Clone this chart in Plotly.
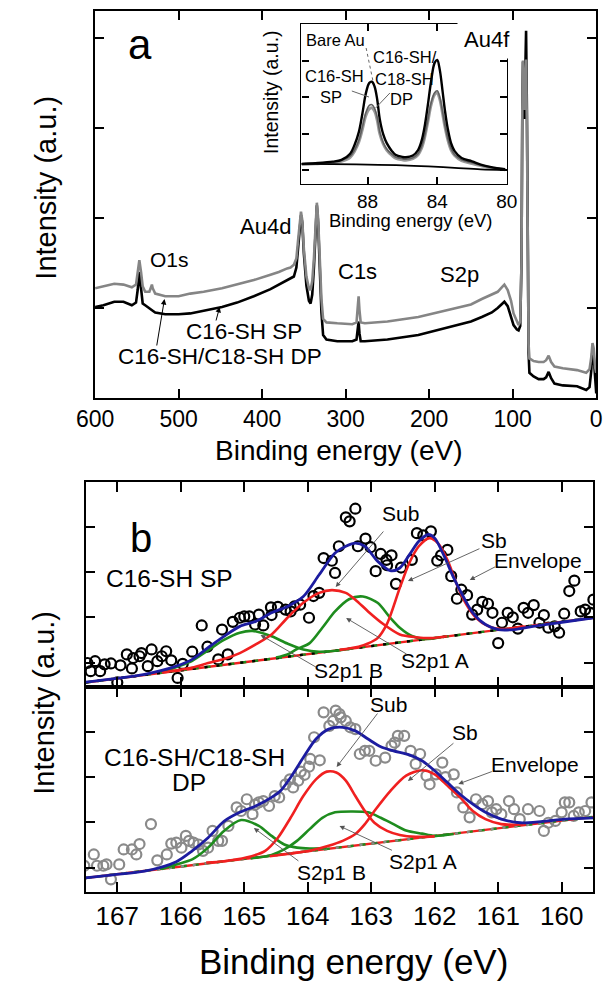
import plotly.graph_objects as go

W, H = 612, 982
FONT = "Liberation Sans, Arial, sans-serif"

# ---------------- Panel a : survey spectra ----------------
survey_be = [600, 590, 577, 566, 556, 551, 549, 547, 545, 543, 540, 535, 533, 532, 531, 528, 516, 500,
             486, 470, 448, 430, 410, 390, 380, 370, 366, 362, 359, 357, 355, 353.5, 352, 350, 347, 344,
             342, 340, 338, 336, 334.5, 333, 331, 329, 327, 323, 310, 292, 287, 285.5, 284.5, 283.5, 282,
             277, 250, 213, 175, 150, 137, 125, 118, 112, 110, 106, 102, 99, 95, 93, 91, 89.5, 88.5, 87.7,
             86.8, 86, 85, 84, 83, 82, 81, 80, 75, 69, 63, 60, 57, 54, 50, 40, 23, 12, 8, 6, 4.5, 3, 1.5, 0]
survey_dp = [1.22, 1.24, 1.27, 1.26, 1.23, 1.26, 1.38, 1.53, 1.40, 1.24, 1.18, 1.18, 1.23, 1.26, 1.22, 1.16,
             1.13, 1.13, 1.16, 1.18, 1.22, 1.26, 1.31, 1.37, 1.40, 1.44, 1.45, 1.48, 1.55, 1.75, 1.98, 2.07,
             1.98, 1.65, 1.35, 1.22, 1.20, 1.30, 1.55, 1.95, 2.17, 2.00, 1.55, 1.10, 0.88, 0.84, 0.83, 0.82,
             0.84, 1.00, 1.13, 0.98, 0.84, 0.83, 0.85, 0.90, 0.98, 1.04, 1.10, 1.15, 1.18, 1.24, 1.26, 1.20,
             1.08, 0.94, 0.84, 0.81, 0.85, 1.5, 3.2, 3.75, 3.4, 3.2, 3.5, 3.76, 3.0, 1.5, 0.6, 0.44, 0.41,
             0.40, 0.40, 0.42, 0.47, 0.40, 0.35, 0.33, 0.31, 0.28, 0.32, 0.45, 0.61, 0.55, 0.35, 0.28]
survey_sp = [1.01, 1.03, 1.07, 1.07, 1.03, 1.06, 1.20, 1.40, 1.22, 1.05, 1.03, 1.00, 0.99, 0.98, 0.97, 0.95,
             0.93, 0.93, 0.94, 0.97, 1.01, 1.06, 1.13, 1.21, 1.26, 1.31, 1.33, 1.35, 1.45, 1.70, 1.95, 2.03,
             1.95, 1.60, 1.25, 1.08, 1.05, 1.15, 1.45, 1.90, 2.14, 1.95, 1.45, 0.95, 0.70, 0.65, 0.63, 0.63,
             0.65, 0.76, 0.85, 0.72, 0.63, 0.63, 0.65, 0.70, 0.79, 0.85, 0.90, 0.95, 1.00, 1.05, 1.07, 1.02,
             0.90, 0.81, 0.76, 0.75, 0.80, 1.5, 3.2, 3.74, 3.3, 3.1, 3.6, 4.08, 3.2, 1.4, 0.5, 0.28, 0.24,
             0.21, 0.21, 0.23, 0.29, 0.22, 0.16, 0.14, 0.13, 0.09, 0.12, 0.30, 0.55, 0.45, 0.20, 0.05]
survey_ticks = [0, 100, 200, 300, 400, 500, 600]

# ---------------- Inset : Au4f ----------------
au4f_be = [91.8, 91.0, 90.0, 89.5, 89.0, 88.75, 88.5, 88.3, 88.1, 87.9, 87.75, 87.6, 87.45, 87.3, 87.1,
           86.9, 86.6, 86.4, 86.0, 85.8, 85.4, 85.1, 84.9, 84.74, 84.55, 84.35, 84.15, 84.0, 83.85, 83.7,
           83.56, 83.4, 83.2, 83.0, 82.6, 82.0, 81.5, 80.9, 80.1]
au4f_bare = [0.17, 0.19, 0.23, 0.28, 0.45, 0.69, 1.05, 1.55, 2.11, 2.40, 2.43, 2.30, 1.95, 1.40, 0.98,
             0.74, 0.52, 0.42, 0.36, 0.35, 0.40, 0.55, 0.80, 1.15, 1.75, 2.45, 2.95, 3.03, 2.75, 2.20,
             1.65, 1.15, 0.73, 0.52, 0.33, 0.24, 0.15, 0.08, 0.02]
au4f_sp = [0.17, 0.19, 0.22, 0.26, 0.38, 0.55, 0.82, 1.18, 1.58, 1.78, 1.80, 1.70, 1.45, 1.05, 0.75,
           0.58, 0.43, 0.36, 0.31, 0.30, 0.34, 0.45, 0.64, 0.90, 1.35, 1.85, 2.13, 2.18, 2.00, 1.62,
           1.24, 0.88, 0.58, 0.42, 0.28, 0.20, 0.13, 0.07, 0.02]
au4f_dp = [0.15, 0.17, 0.20, 0.24, 0.35, 0.52, 0.78, 1.12, 1.50, 1.68, 1.71, 1.62, 1.38, 1.00, 0.72,
           0.55, 0.40, 0.33, 0.28, 0.27, 0.31, 0.42, 0.60, 0.86, 1.30, 1.80, 2.08, 2.12, 1.95, 1.58,
           1.20, 0.85, 0.55, 0.40, 0.26, 0.18, 0.12, 0.06, 0.01]
au4f_bg_be = [91.8, 90.0, 88.0, 86.0, 84.5, 83.0, 81.5, 80.1]
au4f_bg = [0.17, 0.16, 0.15, 0.13, 0.10, 0.06, 0.02, 0.0]
inset_ticks = [88, 84, 80]

# ---------------- Panel b : S2p, C16-SH SP ----------------
sp_pts_be = [167.47, 167.35, 167.42, 167.27, 167.20, 167.10, 167.00, 166.95, 166.85, 166.77, 166.75,
             166.65, 166.62, 166.52, 166.46, 166.37, 166.30, 166.23, 166.15, 166.05, 165.97, 165.82,
             165.67, 165.58, 165.41, 165.35, 165.26, 165.18, 165.07, 165.00, 164.92, 164.83, 164.77,
             164.70, 164.58, 164.57, 164.47, 164.35, 164.27, 164.21, 164.12, 163.98, 163.91, 163.82,
             163.75, 163.62, 163.57, 163.51, 163.40, 163.34, 163.25, 163.21, 163.09, 163.01, 162.93,
             162.85, 162.76, 162.68, 162.75, 162.61, 162.53, 162.36, 162.28, 162.18, 162.06, 161.96,
             161.90, 161.80, 161.74, 161.65, 161.58, 161.49, 161.41, 161.33, 161.25, 161.16, 161.09,
             161.00, 160.94, 160.85, 160.77, 160.69, 160.60, 160.53, 160.44, 160.35, 160.28, 160.21,
             160.11, 160.04, 159.96, 159.88, 159.80, 159.70, 159.63, 159.55, 159.50]
sp_pts_int = [0.99, 1.03, 0.81, 0.81, 0.96, 0.98, 0.56, 0.94, 1.18, 0.87, 1.10, 1.14, 1.21, 0.92, 1.29,
              1.03, 1.14, 1.25, 1.05, 0.66, 0.97, 1.24, 1.82, 1.35, 1.07, 1.73, 1.18, 1.90, 1.99, 2.02,
              2.02, 1.84, 2.06, 1.82, 2.22, 2.05, 2.23, 2.17, 2.13, 2.24, 2.28, 1.99, 2.47, 2.54, 3.31,
              3.25, 2.98, 3.57, 4.21, 4.12, 4.40, 3.57, 3.74, 3.55, 3.02, 3.40, 3.27, 3.37, 3.15, 2.74,
              3.10, 3.27, 3.86, 3.81, 3.90, 3.25, 3.37, 3.49, 2.91, 2.41, 2.61, 2.49, 2.06, 2.17, 2.34,
              2.30, 2.10, 1.43, 1.88, 2.10, 2.00, 1.75, 2.21, 2.10, 2.27, 1.88, 2.05, 1.77, 1.80, 1.66,
              2.08, 2.58, 2.81, 2.13, 2.17, 2.10, 2.39]

sp_env_be = [167.5, 167.07, 166.57, 166.07, 165.82, 165.57, 165.32, 165.07, 164.82, 164.57, 164.32,
             164.07, 163.82, 163.57, 163.40, 163.25, 163.10, 162.90, 162.70, 162.55, 162.40, 162.25,
             162.10, 162.00, 161.85, 161.70, 161.55, 161.40, 161.20, 161.00, 160.75, 160.45, 160.05, 159.5]
sp_env = [0.57, 0.64, 0.74, 0.92, 1.07, 1.33, 1.58, 1.80, 1.91, 2.10, 2.24, 2.46, 2.94, 3.42, 3.57, 3.64,
          3.57, 3.24, 3.03, 3.09, 3.38, 3.68, 3.83, 3.75, 3.35, 2.87, 2.46, 2.10, 1.84, 1.73, 1.73, 1.80,
          1.88, 1.99]
sp_sub_be = [166.30, 165.82, 165.57, 165.32, 165.07, 164.82, 164.57, 164.32, 164.07, 163.82, 163.62,
             163.40, 163.25, 163.05, 162.80, 162.55, 162.30, 162.05, 161.80]
sp_sub = [0.78, 0.89, 0.99, 1.08, 1.21, 1.40, 1.62, 1.99, 2.32, 2.54, 2.60, 2.54, 2.39, 2.13, 1.84, 1.62,
          1.56, 1.54, 1.58]
sp_sb_be = [163.50, 163.20, 163.05, 162.90, 162.75, 162.55, 162.40, 162.25, 162.08, 161.95, 161.80,
            161.65, 161.50, 161.35, 161.15, 160.95, 160.60]
sp_sb = [1.28, 1.35, 1.42, 1.54, 1.86, 2.65, 3.20, 3.57, 3.75, 3.64, 3.27, 2.72, 2.28, 1.99, 1.80, 1.74, 1.80]
sp_a_be = [164.50, 164.32, 164.17, 163.97, 163.77, 163.57, 163.35, 163.13, 162.90, 162.70, 162.55,
           162.35, 162.15, 161.90]
sp_a = [1.11, 1.18, 1.30, 1.43, 1.77, 2.13, 2.40, 2.46, 2.32, 1.99, 1.77, 1.58, 1.52, 1.56]
sp_b_be = [166.30, 166.07, 165.82, 165.57, 165.32, 165.07, 164.87, 164.57, 164.32, 164.07, 163.82,
           163.57, 163.30]
sp_b = [0.78, 0.90, 1.04, 1.27, 1.50, 1.66, 1.70, 1.58, 1.42, 1.29, 1.24, 1.26, 1.31]
sp_base_be = [167.5, 166.5, 165.5, 164.5, 163.5, 162.5, 161.5, 160.5, 159.5]
sp_base = [0.56, 0.74, 0.92, 1.09, 1.27, 1.45, 1.63, 1.81, 1.99]

# ---------------- Panel b : S2p, C16-SH/C18-SH DP ----------------
dp_pts_be = [167.52, 167.37, 167.32, 167.22, 167.17, 167.10, 166.97, 166.90, 166.77, 166.70, 166.65,
             166.47, 166.37, 166.22, 166.15, 166.07, 165.99, 165.92, 165.87, 165.80, 165.72, 165.65,
             165.57, 165.50, 165.41, 165.35, 165.25, 165.12, 165.05, 164.96, 164.87, 164.83, 164.77,
             164.70, 164.61, 164.52, 164.45, 164.35, 164.28, 164.23, 164.15, 164.11, 164.05, 163.98,
             163.96, 163.90, 163.81, 163.75, 163.66, 163.60, 163.56, 163.50, 163.48, 163.40, 163.33,
             163.25, 163.18, 163.10, 163.03, 162.93, 162.78, 162.68, 162.63, 162.58, 162.48, 162.38,
             162.30, 162.23, 162.13, 162.08, 161.98, 161.88, 161.83, 161.70, 161.65, 161.55, 161.45,
             161.35, 161.25, 161.16, 161.10, 161.03, 160.95, 160.83, 160.75, 160.66, 160.53, 160.35,
             160.28, 160.21, 160.10, 160.00, 159.95, 159.88, 159.81, 159.73, 159.63, 159.53]
dp_pts_int = [1.04, 1.29, 1.04, 1.04, 1.07, 0.74, 1.07, 1.40, 1.40, 1.29, 1.52, 1.96, 1.16, 1.29, 1.53,
              1.55, 1.44, 1.70, 1.59, 1.55, 1.51, 1.37, 1.44, 1.81, 1.59, 1.59, 1.92, 2.33, 2.25, 2.51,
              2.18, 2.39, 2.44, 2.47, 2.36, 2.58, 2.55, 2.84, 2.95, 2.77, 2.92, 3.12, 3.05, 3.23, 3.40,
              3.88, 3.37, 4.43, 4.13, 4.24, 4.47, 4.39, 4.32, 4.24, 4.10, 4.06, 3.51, 3.58, 3.58, 3.36,
              3.43, 3.69, 3.76, 3.91, 3.91, 3.58, 3.29, 3.51, 3.03, 2.84, 3.06, 3.32, 3.00, 3.06, 2.66,
              2.33, 2.11, 2.51, 2.40, 2.47, 2.22, 2.29, 2.18, 2.47, 2.29, 2.07, 2.29, 2.25, 1.81, 1.99,
              2.03, 2.22, 2.44, 2.44, 2.14, 2.22, 2.25, 2.44]

dp_env_be = [167.5, 167.07, 166.57, 166.07, 165.82, 165.57, 165.32, 165.07, 164.82, 164.57, 164.42,
             164.27, 164.07, 163.87, 163.67, 163.45, 163.25, 163.05, 162.85, 162.65, 162.40, 162.20,
             162.00, 161.80, 161.60, 161.40, 161.20, 160.95, 160.65, 160.30, 159.95, 159.5]
dp_env = [0.77, 0.84, 0.92, 1.13, 1.37, 1.66, 2.02, 2.22, 2.36, 2.55, 2.71, 2.99, 3.43, 3.84, 4.06, 4.10,
          4.02, 3.84, 3.67, 3.58, 3.49, 3.36, 3.14, 2.88, 2.62, 2.40, 2.22, 2.07, 1.99, 2.02, 2.07, 2.10]
dp_sub_be = [165.60, 165.32, 164.97, 164.67, 164.47, 164.27, 164.07, 163.87, 163.70, 163.55, 163.40,
             163.25, 163.10, 162.95, 162.75, 162.55, 162.30, 162.00]
dp_sub = [1.11, 1.14, 1.22, 1.37, 1.66, 2.10, 2.58, 2.95, 3.12, 3.10, 2.92, 2.58, 2.25, 1.99, 1.81, 1.72,
          1.68, 1.69]
dp_sb_be = [164.60, 164.32, 163.97, 163.67, 163.45, 163.25, 163.10, 162.95, 162.70, 162.45, 162.20,
            162.00, 161.80, 161.60, 161.40, 161.20, 160.95, 160.60]
dp_sb = [1.25, 1.30, 1.37, 1.48, 1.59, 1.74, 1.96, 2.25, 2.69, 3.03, 3.15, 3.06, 2.81, 2.55, 2.25, 2.07,
         1.96, 1.95]
dp_a_be = [164.90, 164.57, 164.37, 164.17, 163.97, 163.77, 163.57, 163.30, 163.05, 162.85, 162.65,
           162.45, 162.20, 162.00, 161.70]
dp_a = [1.20, 1.28, 1.40, 1.59, 1.85, 2.10, 2.22, 2.24, 2.22, 2.10, 1.96, 1.82, 1.75, 1.70, 1.74]
dp_b_be = [166.30, 166.07, 165.82, 165.57, 165.32, 165.05, 164.77, 164.57, 164.37, 164.17, 163.97, 163.70]
dp_b = [0.97, 1.07, 1.18, 1.44, 1.81, 2.05, 1.92, 1.70, 1.51, 1.44, 1.42, 1.43]
dp_base_be = [167.5, 166.5, 165.5, 164.5, 163.5, 162.5, 161.5, 160.5, 159.5]
dp_base = [0.77, 0.94, 1.11, 1.27, 1.44, 1.61, 1.78, 1.95, 2.12]

s2p_ticks = [160, 161, 162, 163, 164, 165, 166, 167]

# ---------------- colours ----------------
BLUE = "#1c1ca0"
RED = "#f02020"
GREEN = "#1e8c1e"
GRAY = "#8a8a8a"


def px(x):
    return x / W


def py(y):
    return 1 - y / H


fig = go.Figure()

# survey
fig.add_trace(go.Scatter(x=survey_be, y=survey_sp, mode="lines", line=dict(color="black", width=2.6),
                         xaxis="x", yaxis="y"))
fig.add_trace(go.Scatter(x=survey_be, y=survey_dp, mode="lines", line=dict(color="#858585", width=2.6),
                         xaxis="x", yaxis="y"))

# inset
fig.add_trace(go.Scatter(x=au4f_be, y=au4f_dp, mode="lines", line=dict(color="#9a9a9a", width=3, shape="spline"),
                         xaxis="x2", yaxis="y2"))
fig.add_trace(go.Scatter(x=au4f_be, y=au4f_sp, mode="lines", line=dict(color="#606060", width=1.6, shape="spline"),
                         xaxis="x2", yaxis="y2"))
fig.add_trace(go.Scatter(x=au4f_be, y=au4f_bare, mode="lines", line=dict(color="black", width=2.4, shape="spline"),
                         xaxis="x2", yaxis="y2"))
fig.add_trace(go.Scatter(x=au4f_bg_be, y=au4f_bg, mode="lines", line=dict(color="black", width=1.8, shape="spline"),
                         xaxis="x2", yaxis="y2"))


def s2p_panel(xa, ya, pts_be, pts_int, mcol, base_be, base, b_be, b, a_be, a, sub_be, sub, sb_be, sb,
              env_be, env):
    fig.add_trace(go.Scatter(x=pts_be, y=pts_int, mode="markers", xaxis=xa, yaxis=ya,
                             marker=dict(symbol="circle-open", size=10, color=mcol,
                                         line=dict(width=2.2, color=mcol))))
    fig.add_trace(go.Scatter(x=base_be, y=base, mode="lines", xaxis=xa, yaxis=ya,
                             line=dict(color=RED, width=2.4)))
    fig.add_trace(go.Scatter(x=base_be, y=base, mode="lines", xaxis=xa, yaxis=ya,
                             line=dict(color=GREEN, width=2.4, dash="6px,6px")))
    fig.add_trace(go.Scatter(x=base_be, y=base, mode="lines", xaxis=xa, yaxis=ya,
                             line=dict(color="black" if mcol == "black" else GRAY, width=2.4, dash="3px,9px")))
    for xs, ys, col in [(b_be, b, GREEN), (a_be, a, GREEN), (sub_be, sub, RED), (sb_be, sb, RED)]:
        fig.add_trace(go.Scatter(x=xs, y=ys, mode="lines", xaxis=xa, yaxis=ya,
                                 line=dict(color=col, width=2.6, shape="spline", smoothing=0.8)))
    fig.add_trace(go.Scatter(x=env_be, y=env, mode="lines", xaxis=xa, yaxis=ya,
                             line=dict(color=BLUE, width=2.8, shape="spline", smoothing=0.8)))


s2p_panel("x3", "y3", sp_pts_be, sp_pts_int, "black", sp_base_be, sp_base, sp_b_be, sp_b, sp_a_be, sp_a,
          sp_sub_be, sp_sub, sp_sb_be, sp_sb, sp_env_be, sp_env)
s2p_panel("x4", "y4", dp_pts_be, dp_pts_int, GRAY, dp_base_be, dp_base, dp_b_be, dp_b, dp_a_be, dp_a,
          dp_sub_be, dp_sub, dp_sb_be, dp_sb, dp_env_be, dp_env)

axis_common = dict(showgrid=False, zeroline=False, showline=True, linecolor="black", linewidth=1.6,
                   mirror="ticks", ticks="inside", tickcolor="black", tickwidth=1.5,
                   tickfont=dict(family=FONT, color="black"))

fig.update_layout(
    width=W, height=H, autosize=False, showlegend=False,
    margin=dict(l=0, r=0, t=0, b=0),
    paper_bgcolor="white", plot_bgcolor="rgba(0,0,0,0)",
    font=dict(family=FONT, color="black"),
    xaxis=dict(axis_common, domain=[px(80), px(607)], anchor="y", range=[600, 0],
               tickvals=survey_ticks, ticklen=9, tickfont=dict(family=FONT, size=23, color="black"),
               ticklabelstandoff=0),
    yaxis=dict(axis_common, domain=[py(398), py(11)], anchor="x", range=[0, 4.3],
               tickvals=[1, 2, 3, 4], ticklen=9, showticklabels=False),
    xaxis2=dict(axis_common, domain=[px(297), px(513)], anchor="y2", range=[91.8, 80],
                tickvals=inset_ticks, ticklen=7, linewidth=1.4,
                tickfont=dict(family=FONT, size=19, color="black"), ticklabelstandoff=0),
    yaxis2=dict(axis_common, domain=[py(184), py(24)], anchor="x2", range=[-0.385, 4.02],
                tickvals=[0, 1, 2, 3], ticklen=7, linewidth=1.4, showticklabels=False),
    xaxis3=dict(axis_common, domain=[px(70), px(604)], anchor="y3", range=[167.5, 159.5],
                tickvals=s2p_ticks, ticklen=10, showticklabels=False),
    yaxis3=dict(axis_common, domain=[py(687), py(482)], anchor="x3", range=[0.46, 4.99],
                tickvals=[1, 2, 3, 4], ticklen=10, showticklabels=False),
    xaxis4=dict(axis_common, domain=[px(70), px(604)], anchor="y4", range=[167.5, 159.5],
                tickvals=s2p_ticks, ticklen=10, tickfont=dict(family=FONT, size=26, color="black"),
                ticklabelstandoff=0),
    yaxis4=dict(axis_common, domain=[py(892), py(687)], anchor="x4", range=[0.46, 4.99],
                tickvals=[1, 2, 3, 4], ticklen=10, showticklabels=False),
)

ann = []


def label(text, x, y, size, angle=0, bg=None, pad=1):
    d = dict(text=text, x=px(x), y=py(y), xref="paper", yref="paper", showarrow=False,
             xanchor="center", yanchor="middle", textangle=angle,
             font=dict(family=FONT, size=size, color="black"))
    if bg:
        d.update(bgcolor=bg, borderpad=pad)
    ann.append(d)


def arrow(tail, head, color="#333333", width=0.9):
    ann.append(dict(text="", x=px(head[0]), y=py(head[1]), xref="paper", yref="paper",
                    ax=tail[0] - head[0], ay=tail[1] - head[1], axref="pixel", ayref="pixel",
                    showarrow=True, arrowhead=2, arrowsize=1.1, arrowwidth=width, arrowcolor=color))


# panel a texts
label("a", 127, 44, 42)
label("Intensity (a.u.)", 28, 188, 29, angle=-90)
label("Binding energy (eV)", 336, 450, 28)
label("O1s", 158, 259, 21)
label("Au4d", 259, 227, 22)
label("C1s", 356, 271, 22)
label("S2p", 463, 274, 22)
label("Au4f", 492, 40, 22, bg="white", pad=6)
label("C16-SH SP", 237, 331, 22.5)
label("C16-SH/C18-SH DP", 211, 357, 22.5)
arrow((207, 322), (211, 307), color="black", width=1)
arrow((145, 347), (153, 299), color="black", width=1)

# inset texts
label("Intensity (a.u.)", 265, 92, 19.5, angle=-90)
label("Binding energy (eV)", 412, 220, 18.5)
label("Bare Au", 333, 40, 16.5)
label("C16-SH", 332, 76, 16.5)
label("SP", 328, 97, 16.5)
label("C16-SH/", 406, 57, 16.5)
label("C18-SH", 405, 79, 16.5)
label("DP", 402, 99, 16.5)

# panel b texts
label("b", 128, 538, 40)
label("Intensity (a.u.)", 26, 703, 29, angle=-90)
label("Binding energy (eV)", 352, 961, 35)
label("C16-SH SP", 158, 578, 24.5)
label("C16-SH/C18-SH", 185, 757, 24.5)
label("DP", 179, 782, 24.5)
label("Sub", 401, 513, 21)
label("Sb", 500, 540, 21)
label("Envelope", 546, 560, 21)
label("S2p1 A", 437, 660, 21)
label("S2p1 B", 346, 670, 21)
label("Sub", 389, 704, 21)
label("Sb", 469, 732, 21)
label("Envelope", 543, 764, 21)
label("S2p1 A", 425, 861, 21)
label("S2p1 B", 329, 872, 21)

arrow((382, 530), (333, 587), color="#555555")
arrow((482, 548), (409, 581), color="#555555")
arrow((501, 566), (474, 580), color="#555555")
arrow((406, 655), (344, 618), color="#555555")
arrow((311, 668), (254, 635), color="#555555")
arrow((376, 712), (334, 767), color="#555555")
arrow((456, 742), (409, 781), color="#555555")
arrow((497, 771), (462, 784), color="#555555")
arrow((391, 851), (337, 826), color="#555555")
arrow((293, 862), (247, 828), color="#555555")

fig.update_layout(annotations=ann)

# inset pointer lines
shapes = []
for (x0, y0, x1, y1, dash) in [(365, 48, 372, 80, "dot"), (350, 91, 368, 97, "solid"),
                               (390, 93, 375, 108, "solid")]:
    shapes.append(dict(type="line", xref="paper", yref="paper", x0=px(x0), y0=py(y0), x1=px(x1), y1=py(y1),
                       line=dict(color="#666666", width=1, dash=dash)))
fig.update_layout(shapes=shapes)

fig.write_html("out.html", config={"displayModeBar": False},
               post_script="document.body.style.margin='0px';")
